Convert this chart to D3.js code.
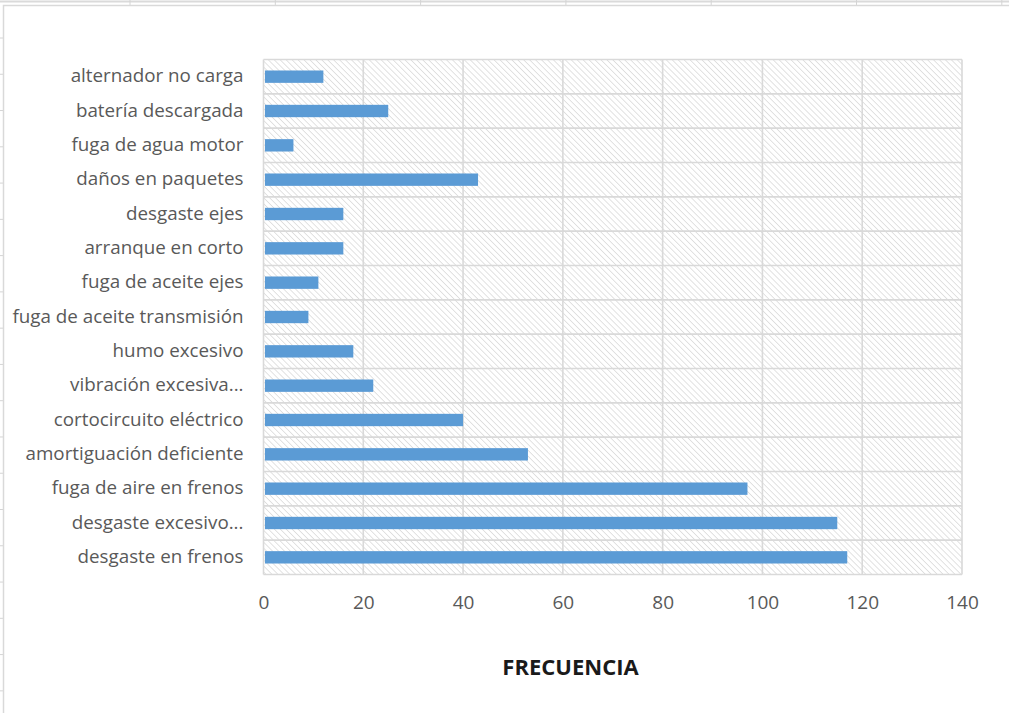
<!DOCTYPE html>
<html>
<head>
<meta charset="utf-8">
<script src="https://cdn.jsdelivr.net/npm/d3@7"></script>
<style>
  html, body { margin: 0; padding: 0; background: #fff; }
  svg { display: block; }
</style>
</head>
<body>
<svg id="chart" width="1009" height="713"></svg>
<script>
const categories = [
  "alternador no carga",
  "batería descargada",
  "fuga de agua motor",
  "daños en paquetes",
  "desgaste ejes",
  "arranque en corto",
  "fuga de aceite ejes",
  "fuga de aceite transmisión",
  "humo excesivo",
  "vibración excesiva...",
  "cortocircuito eléctrico",
  "amortiguación deficiente",
  "fuga de aire en frenos",
  "desgaste excesivo...",
  "desgaste en frenos"
];
const frecuencia = [12, 25, 6, 43, 16, 16, 11, 9, 18, 22, 40, 53, 97, 115, 117];
const xTicks = [0, 20, 40, 60, 80, 100, 120, 140];
const axisTitle = "FRECUENCIA";

const svg = d3.select("#chart");
const W = 1009, H = 713;
const font = "'Open Sans', 'Noto Sans', sans-serif";

// spreadsheet background bits
const sheet = svg.append("g");
sheet.append("line").attr("x1", 0).attr("x2", W).attr("y1", 1.5).attr("y2", 1.5)
  .attr("stroke", "#dadada").attr("stroke-width", 2);
d3.range(7).forEach(i => {
  const xx = 130 + i * 145.3;
  sheet.append("line").attr("x1", xx).attr("x2", xx).attr("y1", 0).attr("y2", 5)
    .attr("stroke", "#d4d4d4").attr("stroke-width", 1);
});
d3.range(19).forEach(i => {
  const yy = 38 + i * 36.27;
  sheet.append("line").attr("x1", 0).attr("x2", 3).attr("y1", yy).attr("y2", yy)
    .attr("stroke", "#d4d4d4").attr("stroke-width", 1);
});
// chart frame
sheet.append("path").attr("d", `M3.5,${H} V5.5 H${W}`)
  .attr("fill", "none").attr("stroke", "#d9d9d9").attr("stroke-width", 1.5);

// hatch pattern
const defs = svg.append("defs");
const pat = defs.append("pattern").attr("id", "hatch")
  .attr("patternUnits", "userSpaceOnUse").attr("width", 4.2).attr("height", 4.2)
  .attr("patternTransform", "rotate(-45)");
pat.append("rect").attr("width", 4.2).attr("height", 4.2).attr("fill", "#fff");
pat.append("line").attr("x1", 0).attr("x2", 0).attr("y1", 0).attr("y2", 4.2)
  .attr("stroke", "#d6d6d6").attr("stroke-width", 1.4);

const plot = { left: 263.5, right: 962, top: 59.5, bottom: 574.5 };

const x = d3.scaleLinear().domain([0, 140]).range([plot.left, plot.right]);
const y = d3.scaleBand().domain(categories).range([plot.top, plot.bottom])
  .paddingInner(0.64).paddingOuter(0.32);

// plot area background
svg.append("rect").attr("x", plot.left).attr("y", plot.top)
  .attr("width", plot.right - plot.left).attr("height", plot.bottom - plot.top)
  .attr("fill", "url(#hatch)");

// vertical gridlines
svg.append("g").selectAll("line").data(xTicks).join("line")
  .attr("x1", d => x(d)).attr("x2", d => x(d))
  .attr("y1", plot.top).attr("y2", plot.bottom)
  .attr("stroke", "#d9d9d9").attr("stroke-width", 1.6);

// horizontal gridlines at category boundaries
const step = y.step();
const bounds = d3.range(categories.length + 1).map(i => plot.top + i * step);
svg.append("g").selectAll("line").data(bounds).join("line")
  .attr("x1", plot.left).attr("x2", plot.right)
  .attr("y1", d => d).attr("y2", d => d)
  .attr("stroke", "#d9d9d9").attr("stroke-width", 1.6);

// bars
svg.append("g").selectAll("rect").data(categories).join("rect")
  .attr("x", x(0) + 1.5)
  .attr("y", d => y(d))
  .attr("width", (d, i) => x(frecuencia[i]) - x(0) - 1.5)
  .attr("height", y.bandwidth())
  .attr("fill", "#5b9bd5");

// category labels
const yAxis = d3.axisLeft(y).tickSize(0).tickPadding(20);
const yg = svg.append("g").attr("transform", `translate(${plot.left},-1)`).call(yAxis);
yg.select(".domain").remove();
yg.selectAll("text").attr("font-family", font).attr("font-size", 18.8)
  .attr("fill", "#595959").attr("dy", "0.36em");

// x tick labels
const xAxis = d3.axisBottom(x).tickValues(xTicks).tickSize(0).tickPadding(0);
const xg = svg.append("g").attr("transform", `translate(0,${plot.bottom + 34})`).call(xAxis);
xg.select(".domain").remove();
xg.selectAll("text").attr("font-family", font).attr("font-size", 19)
  .attr("fill", "#595959").attr("dy", "0");

// axis title
svg.append("text").attr("x", 570.5).attr("y", 675)
  .attr("text-anchor", "middle").attr("font-family", font)
  .attr("font-weight", "bold").attr("font-size", 22).attr("fill", "#1a1a1a")
  .text(axisTitle);
</script>
</body>
</html>
